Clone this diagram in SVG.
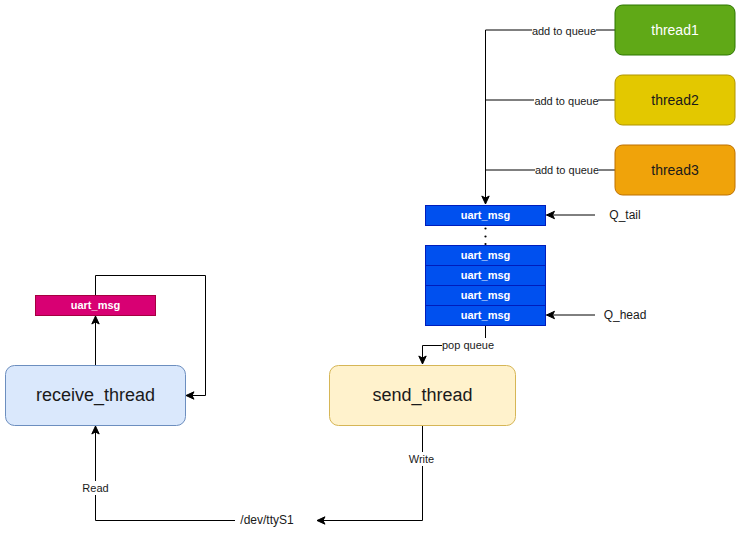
<svg xmlns="http://www.w3.org/2000/svg" width="741" height="541" viewBox="0 0 741 541">
<defs>
<style>
text{font-family:"Liberation Sans",Arial,sans-serif;dominant-baseline:central;text-anchor:middle;}
.lbl{font-size:11px;fill:#1a1a1a;}
.msgt{font-size:11px;font-weight:bold;fill:#ffffff;}
.blue{fill:#0050EF;stroke:#001DBC;stroke-width:1;}
.edge{fill:none;stroke:#000000;stroke-width:1;}
.bg{fill:#ffffff;}
</style>
<marker id="arr" markerUnits="userSpaceOnUse" markerWidth="10" markerHeight="10" viewBox="0 0 10 10" refX="9" refY="5" orient="auto">
<path d="M1,1.3 L9,5 L1,8.7 L3,5 Z" fill="#000" stroke="#000" stroke-width="1"/>
</marker>
</defs>
<rect width="741" height="541" fill="#ffffff"/>

<g id="connectors">
<path class="edge" d="M615,30 H485.5 V204" marker-end="url(#arr)"/>
<path class="edge" d="M615,100 H485.5"/>
<path class="edge" d="M615,170 H485.5"/>
<rect class="bg" x="532" y="24" width="64" height="14"/>
<text class="lbl" x="564" y="30.5">add to queue</text>
<rect class="bg" x="534" y="94" width="64" height="14"/>
<text class="lbl" x="566.5" y="100.5">add to queue</text>
<rect class="bg" x="535" y="163" width="64" height="14"/>
<text class="lbl" x="567" y="169.5">add to queue</text>

<path class="edge" d="M595,215 H546.5" marker-end="url(#arr)"/>
<path class="edge" d="M595,315 H546.5" marker-end="url(#arr)"/>

<path class="edge" d="M485.5,325 V345.5 H422.5 V364" marker-end="url(#arr)"/>
<rect class="bg" x="442" y="338" width="52" height="14"/>
<text class="lbl" x="468" y="344.5">pop queue</text>

<path class="edge" d="M95.5,365 V316" marker-end="url(#arr)"/>
<path class="edge" d="M95.5,295 V275.5 H205.5 V395.5 H186" marker-end="url(#arr)"/>

<path class="edge" d="M422.5,425 V520.5 H317" marker-end="url(#arr)"/>
<rect class="bg" x="407" y="452" width="30" height="14"/>
<text class="lbl" x="421.5" y="458.5">Write</text>

<path class="edge" d="M235,520.5 H95.5 V426" marker-end="url(#arr)"/>
<rect class="bg" x="81" y="481" width="29" height="14"/>
<text class="lbl" x="95.5" y="487.5">Read</text>
</g>

<g id="thread1">
<rect x="615" y="5" width="120" height="50" rx="7.5" fill="#60A917" stroke="#2D7600"/>
<text x="675" y="29.5" style="font-size:14px;fill:#ffffff;">thread1</text>
</g>
<g id="thread2">
<rect x="615" y="75" width="120" height="50" rx="7.5" fill="#E3C800" stroke="#B09500"/>
<text x="675" y="99.5" style="font-size:14px;fill:#1a1a1a;">thread2</text>
</g>
<g id="thread3">
<rect x="615" y="145" width="120" height="50" rx="7.5" fill="#F0A30A" stroke="#BD7000"/>
<text x="675" y="169.5" style="font-size:14px;fill:#1a1a1a;">thread3</text>
</g>

<g id="uart_msg_tail">
<rect class="blue" x="425.5" y="205.5" width="120" height="20"/>
<text class="msgt" x="485.5" y="214.5">uart_msg</text>
</g>
<g id="dots">
<circle cx="485.5" cy="228.5" r="1.1" fill="#000"/>
<circle cx="485.5" cy="236.5" r="1.1" fill="#000"/>
<circle cx="485.5" cy="244" r="1.1" fill="#000"/>
</g>
<g id="uart_msg_1">
<rect class="blue" x="425.5" y="245.5" width="120" height="20"/>
<text class="msgt" x="485.5" y="254.5">uart_msg</text>
</g>
<g id="uart_msg_2">
<rect class="blue" x="425.5" y="265.5" width="120" height="20"/>
<text class="msgt" x="485.5" y="274.5">uart_msg</text>
</g>
<g id="uart_msg_3">
<rect class="blue" x="425.5" y="285.5" width="120" height="20"/>
<text class="msgt" x="485.5" y="294.5">uart_msg</text>
</g>
<g id="uart_msg_head">
<rect class="blue" x="425.5" y="305.5" width="120" height="20"/>
<text class="msgt" x="485.5" y="314.5">uart_msg</text>
</g>

<g id="q_tail">
<text x="625" y="214.5" style="font-size:12px;fill:#1a1a1a;">Q_tail</text>
</g>
<g id="q_head">
<text x="625" y="314.5" style="font-size:12px;fill:#1a1a1a;">Q_head</text>
</g>

<g id="send_thread">
<rect x="329.5" y="365.5" width="186" height="60" rx="9" fill="#FFF2CC" stroke="#D6B656"/>
<text x="422.5" y="394.5" style="font-size:18px;fill:#1a1a1a;">send_thread</text>
</g>

<g id="receive_thread">
<rect x="5.5" y="365.5" width="180" height="60" rx="9" fill="#DAE8FC" stroke="#6C8EBF"/>
<text x="95.5" y="394.5" style="font-size:18px;fill:#1a1a1a;">receive_thread</text>
</g>

<g id="uart_msg_recv">
<rect x="35.5" y="295.5" width="120" height="20" fill="#D80073" stroke="#A50040"/>
<text class="msgt" x="95.5" y="304.5">uart_msg</text>
</g>

<g id="dev_ttyS1">
<text x="267" y="520" style="font-size:12px;fill:#1a1a1a;">/dev/ttyS1</text>
</g>
</svg>
